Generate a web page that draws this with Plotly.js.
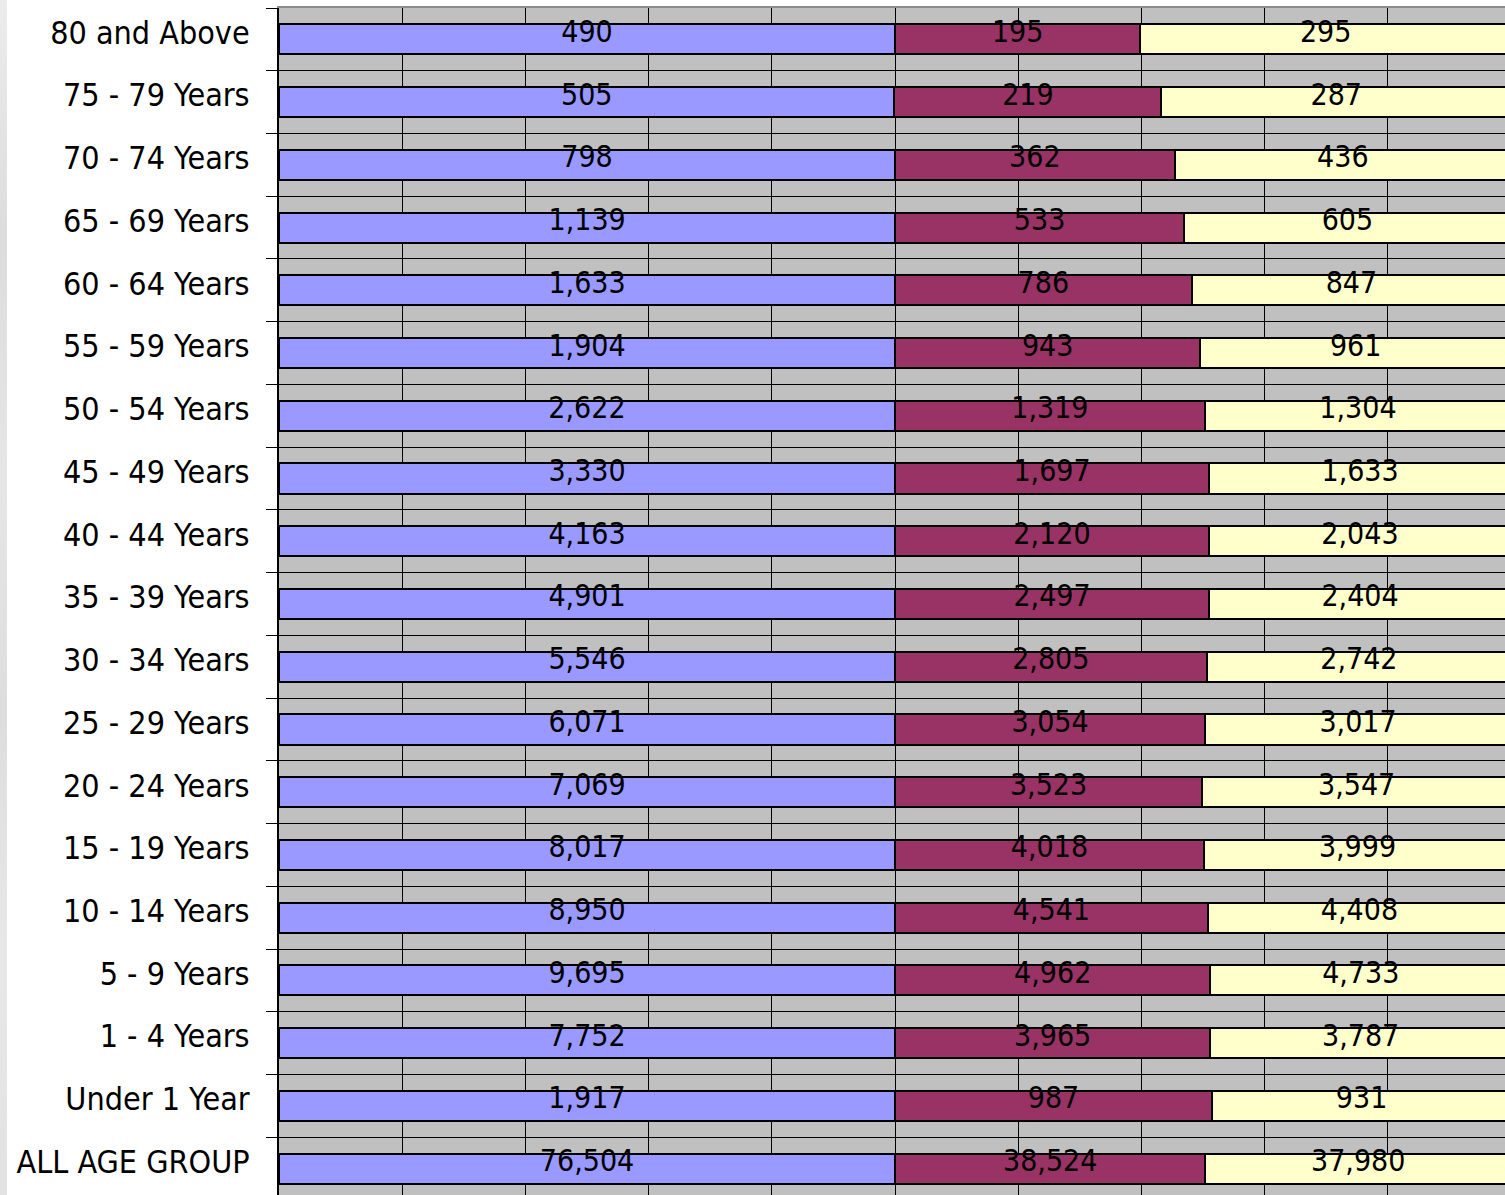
<!DOCTYPE html>
<html>
<head>
<meta charset="utf-8">
<script src="https://cdn.plot.ly/plotly-3.0.1.min.js"></script>
<style>
  html, body { margin: 0; padding: 0; background: #ffffff; }
  #wrap { position: relative; width: 1505px; height: 1195px; overflow: hidden; }
  #strip { position: absolute; left: 0; top: 0; width: 7px; height: 1195px;
           background: linear-gradient(to bottom, #ececec 0%, #dcdcdc 20%, #e6e6e6 40%, #dddddd 60%, #e8e8e8 80%, #e2e2e2 100%); }
  #chart { position: absolute; left: 0; top: 0; width: 1505px; height: 1195px; }
</style>
</head>
<body>
<div id="wrap"><div id="strip"></div><div id="chart"></div></div>
<script>
// Categories, bottom to top
var categories = ["ALL AGE GROUP", "Under 1 Year", "1 - 4 Years", "5 - 9 Years", "10 - 14 Years",
  "15 - 19 Years", "20 - 24 Years", "25 - 29 Years", "30 - 34 Years", "35 - 39 Years",
  "40 - 44 Years", "45 - 49 Years", "50 - 54 Years", "55 - 59 Years", "60 - 64 Years",
  "65 - 69 Years", "70 - 74 Years", "75 - 79 Years", "80 and Above"];
var totalValues = [76504, 1917, 7752, 9695, 8950, 8017, 7069, 6071, 5546, 4901,
  4163, 3330, 2622, 1904, 1633, 1139, 798, 505, 490];
var maleValues = [38524, 987, 3965, 4962, 4541, 4018, 3523, 3054, 2805, 2497,
  2120, 1697, 1319, 943, 786, 533, 362, 219, 195];
var femaleValues = [37980, 931, 3787, 4733, 4408, 3999, 3547, 3017, 2742, 2404,
  2043, 1633, 1304, 961, 847, 605, 436, 287, 295];

var FONT = "'DejaVu Sans Condensed', 'Liberation Sans Narrow', 'DejaVu Sans', sans-serif";
var idx = categories.map(function (c, i) { return i; });
var labelShift = 0.11;   // Excel draws its text slightly above the row centre
var series = [
  { name: "Total", vals: totalValues, color: "#9999FF" },
  { name: "Male", vals: maleValues, color: "#993366" },
  { name: "Female", vals: femaleValues, color: "#FFFFCC" }
];

function fmt(v) { return v.toString().replace(/\B(?=(\d{3})+(?!\d))/g, ","); }

var traces = [];
series.forEach(function (s) {
  traces.push({
    type: "bar", orientation: "h", name: s.name,
    y: idx, x: s.vals,
    marker: { color: s.color, line: { color: "#000000", width: 2 } },
    hoverinfo: "skip"
  });
});

// label positions: midpoint of each normalised segment (percent of row sum)
var labelX = [], labelY = [], labelT = [];
idx.forEach(function (i) {
  var sum = 0; series.forEach(function (s) { sum += s.vals[i]; });
  var cum = 0;
  series.forEach(function (s) {
    var v = s.vals[i];
    labelX.push((cum + v / 2) / sum * 100);
    labelY.push(i + 0.08);
    labelT.push(fmt(v));
    cum += v;
  });
});
traces.push({
  type: "scatter", mode: "text", x: labelX, y: labelY, text: labelT,
  textposition: "middle center",
  textfont: { family: FONT, size: 30, color: "#000000" },
  hoverinfo: "skip", showlegend: false, cliponaxis: true
});

var layout = {
  width: 1505, height: 1195,
  margin: { l: 279, r: 0, t: 8, b: 0, pad: 0 },
  paper_bgcolor: "rgba(0,0,0,0)",
  plot_bgcolor: "#C0C0C0",
  barmode: "stack", barnorm: "percent", bargap: 0.52,
  showlegend: false,
  xaxis: {
    range: [0, 99.5], dtick: 10, tick0: 0,
    showgrid: true, gridcolor: "#000000", gridwidth: 1,
    zeroline: false, showticklabels: false, ticks: "",
    side: "top", showline: true, linecolor: "#8c8c8c", linewidth: 2
  },
  yaxis: {
    range: [-0.42, 18.5],
    tickmode: "array", tickvals: idx.map(function (i) { return i + labelShift; }), ticktext: categories,
    ticks: "", showgrid: false, zeroline: false,
    showline: true, linecolor: "#000000", linewidth: 2,
    ticklabelstandoff: 21,
    tickfont: { family: FONT, size: 32, color: "#000000" },
    minor: { tickmode: "linear", tick0: 0.5, dtick: 1, ticks: "outside", ticklen: 11,
             tickcolor: "#000000", tickwidth: 1, showgrid: true, gridcolor: "#000000", gridwidth: 1 }
  },
  font: { family: FONT, color: "#000000" }
};

Plotly.newPlot("chart", traces, layout, { displayModeBar: false, staticPlot: true });
</script>
</body>
</html>
